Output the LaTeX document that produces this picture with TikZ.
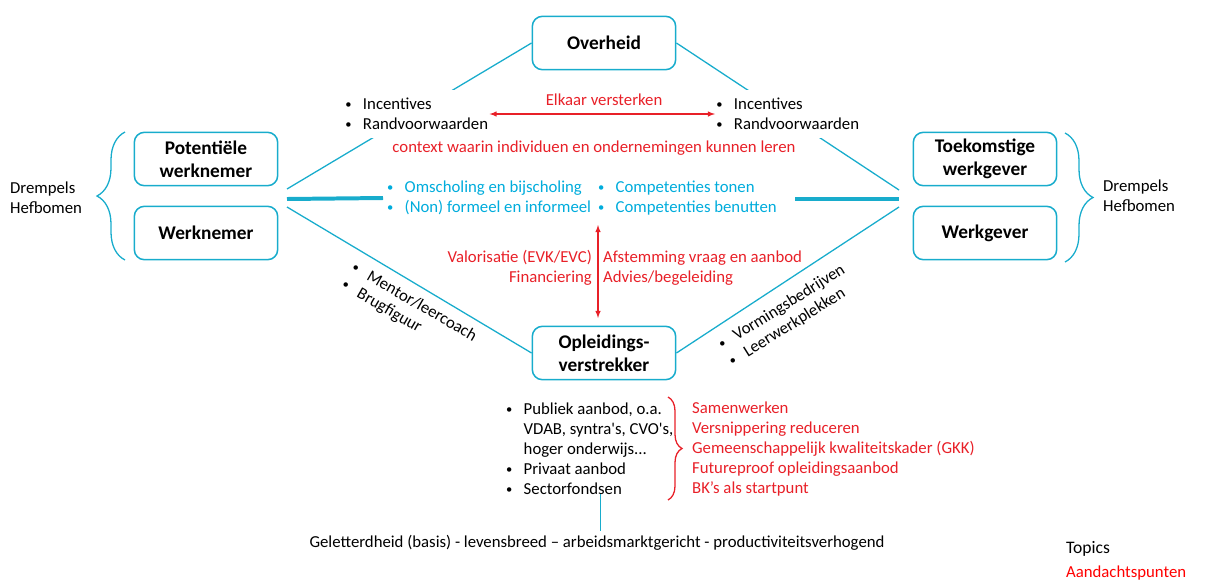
\documentclass[tikz,border=0pt]{standalone}
\usepackage{graphicx}
\usepackage{fontspec}
\setmainfont{Carlito}
\usetikzlibrary{decorations.pathreplacing}

\definecolor{lijn}{RGB}{24,172,204}
\definecolor{mavi}{RGB}{0,172,220}
\definecolor{kirmizi}{RGB}{232,32,40}
\definecolor{parlak}{RGB}{255,0,0}

\newcommand{\madde}{\makebox[15pt][l]{\raisebox{0.08em}{\scalebox{0.75}{\textbullet}}}}
\newcommand{\bosluk}{\hspace*{15pt}}

\tikzset{
  kutu/.style={draw=lijn, line width=1.3pt, rounded corners=0.3cm,
    minimum width=4.3cm, minimum height=1.6cm, align=center,
    font=\fontsize{16.5}{19.5}\selectfont\bfseries},
  baglanti/.style={draw=lijn, line width=1.1pt},
  kalin/.style={draw=lijn, line width=3.4pt},
  kirmiziok/.style={draw=kirmizi, line width=1.1pt, <->, >=latex},
  parantez/.style={decorate, decoration={brace, amplitude=#1}, line width=1.1pt},
}

\begin{document}
\begin{tikzpicture}[x=0.03cm, y=-0.03cm,
    every node/.style={font=\fontsize{14.3}{17}\selectfont}]
  \useasboundingbox (0,0) rectangle (1210,583);

  % Aktorler
  \node[kutu] (overheid) at (604,43) {Overheid};
  \node[kutu] (potwn) at (206,159) {Potentiële\\werknemer};
  \node[kutu] (wn) at (206,233) {Werknemer};
  \node[kutu] (tkwg) at (985,159) {Toekomstige\\werkgever};
  \node[kutu] (wg) at (985,233) {Werkgever};
  \node[kutu] (opl) at (604,353) {Opleidings-\\verstrekker};

  % Birlesme noktalari
  \coordinate (lA) at (287,189);
  \coordinate (lB) at (287,199);
  \coordinate (lC) at (287,207);
  \coordinate (rA) at (899,190);
  \coordinate (rB) at (899,199);
  \coordinate (rC) at (899,207);
  \coordinate (rD) at (795,199);

  % Baglantilar
  \draw[baglanti] (overheid.west) -- (lA);
  \draw[baglanti] (overheid.east) -- (rA);
  \draw[baglanti] (opl.west) -- (lC);
  \draw[baglanti] (opl.east) -- (rC);

  % Ust maddeler
  \node[fill=white, anchor=west, align=left, inner xsep=1pt, inner ysep=0.25cm] (incL) at (344,114)
    {\madde Incentives\\\madde Randvoorwaarden};
  \node[fill=white, anchor=west, align=left, inner xsep=1pt, inner ysep=0.25cm] (incR) at (715,114)
    {\madde Incentives\\\madde Randvoorwaarden};
  \draw[kirmiziok] (incL.east) -- (incR.west);
  \node[text=kirmizi] (elkaar) at (604,100) {Elkaar versterken};
  \node[text=kirmizi] (context) at (594,148) {context waarin individuen en ondernemingen kunnen leren};

  % Orta maddeler
  \node[anchor=west, align=left, text=mavi] (omsch) at (383,198)
    {\madde Omscholing en bijscholing\\\madde (Non) formeel en informeel};
  \node[anchor=west, align=left, text=mavi] (comp) at (594,198)
    {\madde Competenties tonen\\\madde Competenties benutten};
  \draw[kalin] (lB) -- (omsch.west);
  \draw[kalin] (rD) -- (rB);

  % Dikey ok
  \coordinate (okust) at (598,225);
  \coordinate (okalt) at (598,318);
  \draw[kirmiziok] (okust) -- (okalt);
  \node[anchor=east, align=right, text=kirmizi] (valor) at (596,268)
    {Valorisatie (EVK/EVC)\\Financiering};
  \node[anchor=west, align=left, text=kirmizi] (afst) at (599,268)
    {Afstemming vraag en aanbod\\Advies/begeleiding};

  % Egik yazilar
  \node[rotate=-30, align=left] (mentor) at (409,311)
    {\madde Mentor/leercoach\\\madde Brugfiguur};
  \node[rotate=32, align=left] (vorm) at (787,316)
    {\madde Vormingsbedrijven\\\madde Leerwerkplekken};

  % Parantezler
  \draw[parantez=0.84cm, lijn] (125,260) -- (125,132);
  \draw[parantez=0.84cm, lijn] (1065,133) -- (1065,262);
  \node[anchor=west, align=left] (drL) at (6,198) {Drempels\\Hefbomen};
  \node[anchor=west, align=left] (drR) at (1099,196) {Drempels\\Hefbomen};

  % Opleidingsaanbod
  \node[anchor=west, align=left] (aanbod) at (502,449)
    {\madde Publiek aanbod, o.a.\\\bosluk VDAB, syntra\textquotesingle s, CVO\textquotesingle s,\\\bosluk hoger onderwijs...\\\madde Privaat aanbod\\\madde Sectorfondsen};
  \draw[parantez=0.42cm, kirmizi] (668,397) -- (668,500);
  \node[anchor=west, align=left, text=kirmizi] (aandacht) at (688,449)
    {Samenwerken\\Versnippering reduceren\\Gemeenschappelijk kwaliteitskader (GKK)\\Futureproof opleidingsaanbod\\BK’s als startpunt};

  % Alt satir
  \node[font=\fontsize{14.3}{17}\selectfont] (geletter) at (597,543)
    {Geletterdheid (basis) - levensbreed – arbeidsmarktgericht - productiviteitsverhogend};
  \coordinate (dik) at (600,494);
  \draw[lijn, line width=0.8pt] (dik) -- (dik |- geletter.north);

  % Lejant
  \node[anchor=west, font=\fontsize{15}{18}\selectfont] (topics) at (1062,549) {Topics};
  \node[anchor=west, text=parlak] (aandachtsp) at (1062,573) {Aandachtspunten};
\end{tikzpicture}
\end{document}
